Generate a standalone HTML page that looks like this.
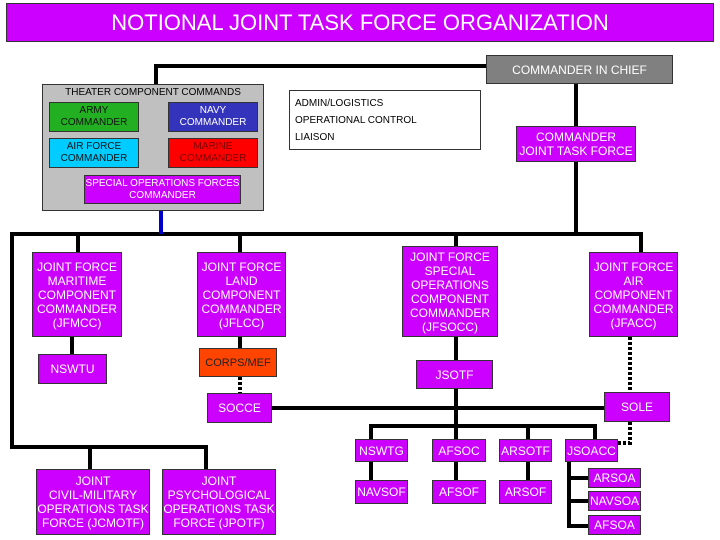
<!DOCTYPE html>
<html><head><meta charset="utf-8"><style>
body{margin:0;width:720px;height:540px;background:#fff;position:relative;overflow:hidden;font-family:"Liberation Sans",sans-serif}
.b{position:absolute;box-sizing:border-box;display:flex;align-items:center;justify-content:center;text-align:center;color:#fff;font-size:12px;line-height:14px;background:#cc00ff;border:1px solid #333}
.t{position:absolute;font-size:10px;color:#000}
svg{position:absolute;left:0;top:0}
</style></head><body>
<svg width="720" height="540">
<g stroke="#000" stroke-width="4" fill="none">
<polyline points="487,66 156,66 156,84"/>
<line x1="576" y1="84" x2="576" y2="234"/>
<line x1="10" y1="234" x2="643" y2="234"/>
<line x1="78" y1="234" x2="78" y2="252"/>
<line x1="240" y1="234" x2="240" y2="252"/>
<line x1="456" y1="234" x2="456" y2="246"/>
<line x1="641" y1="234" x2="641" y2="252"/>
<line x1="72" y1="337" x2="72" y2="354"/>
<line x1="240" y1="337" x2="240" y2="348"/>
<line x1="456" y1="337" x2="456" y2="426"/>
<line x1="272" y1="408" x2="604" y2="408"/>
<polyline points="371,439 371,426 595,426 595,439"/>
<line x1="456" y1="426" x2="456" y2="439"/>
<line x1="528" y1="426" x2="528" y2="439"/>
<line x1="371" y1="462" x2="371" y2="480"/>
<line x1="456" y1="462" x2="456" y2="480"/>
<line x1="528" y1="462" x2="528" y2="480"/>
<polyline points="569,462 569,526 588,526"/>
<line x1="569" y1="478" x2="588" y2="478"/>
<line x1="569" y1="501" x2="588" y2="501"/>
<polyline points="12,234 12,447 206,447 206,469"/>
<line x1="90" y1="447" x2="90" y2="469"/>
<line x1="439" y1="121" x2="476" y2="121"/>
</g>
<line x1="161" y1="210" x2="161" y2="234" stroke="#0000cc" stroke-width="4"/>
<line x1="439" y1="104" x2="476" y2="104" stroke="#0000cc" stroke-width="4"/>
<g stroke="#000" stroke-width="4" stroke-dasharray="3,2" fill="none">
<line x1="240" y1="377" x2="240" y2="393"/>
<polyline points="630,337 630,392"/>
<polyline points="630,422 630,443 618,443"/>
<line x1="439" y1="138" x2="478" y2="138"/>
</g>
</svg>
<div class="b" style="left:6px;top:3px;width:708px;height:39px;font-size:22px">NOTIONAL JOINT TASK FORCE ORGANIZATION</div>
<div class="b" style="left:486px;top:55px;width:187px;height:29px;background:#808080">COMMANDER IN CHIEF</div>
<div class="b" style="left:42px;top:84px;width:222px;height:127px;background:#c0c0c0;display:block"></div>
<div class="t" style="left:42px;top:87px;width:222px;text-align:center">THEATER COMPONENT COMMANDS</div>
<div class="b" style="left:49px;top:102px;width:90px;height:30px;background:#22b022;color:#111;font-size:10px;line-height:12px">ARMY<br>COMMANDER</div>
<div class="b" style="left:168px;top:102px;width:90px;height:30px;background:#3333bb;font-size:10px;line-height:12px">NAVY<br>COMMANDER</div>
<div class="b" style="left:49px;top:138px;width:90px;height:30px;background:#00ccff;color:#111;font-size:10px;line-height:12px">AIR FORCE<br>COMMANDER</div>
<div class="b" style="left:168px;top:138px;width:90px;height:30px;background:#ff0000;color:#770000;font-size:10px;line-height:12px">MARINE<br>COMMANDER</div>
<div class="b" style="left:84px;top:175px;width:157px;height:29px;font-size:10px;line-height:12px">SPECIAL OPERATIONS FORCES<br>COMMANDER</div>
<div class="b" style="left:289px;top:90px;width:192px;height:60px;background:#fff;display:block"></div>
<div class="t" style="left:295px;top:98px">ADMIN/LOGISTICS</div>
<div class="t" style="left:295px;top:115px">OPERATIONAL CONTROL</div>
<div class="t" style="left:295px;top:132px">LIAISON</div>
<div class="b" style="left:516px;top:126px;width:120px;height:36px">COMMANDER<br>JOINT TASK FORCE</div>
<div class="b" style="left:32px;top:252px;width:90px;height:85px">JOINT FORCE<br>MARITIME<br>COMPONENT<br>COMMANDER<br>(JFMCC)</div>
<div class="b" style="left:197px;top:252px;width:89px;height:85px">JOINT FORCE<br>LAND<br>COMPONENT<br>COMMANDER<br>(JFLCC)</div>
<div class="b" style="left:402px;top:246px;width:96px;height:91px">JOINT FORCE<br>SPECIAL<br>OPERATIONS<br>COMPONENT<br>COMMANDER<br>(JFSOCC)</div>
<div class="b" style="left:589px;top:252px;width:89px;height:85px">JOINT FORCE<br>AIR<br>COMPONENT<br>COMMANDER<br>(JFACC)</div>
<div class="b" style="left:38px;top:354px;width:69px;height:30px">NSWTU</div>
<div class="b" style="left:199px;top:348px;width:78px;height:29px;background:#ff4400;color:#222;font-size:11px">CORPS/MEF</div>
<div class="b" style="left:207px;top:393px;width:65px;height:30px">SOCCE</div>
<div class="b" style="left:416px;top:360px;width:77px;height:29px">JSOTF</div>
<div class="b" style="left:604px;top:392px;width:66px;height:30px">SOLE</div>
<div class="b" style="left:355px;top:439px;width:53px;height:23px">NSWTG</div>
<div class="b" style="left:432px;top:439px;width:54px;height:23px">AFSOC</div>
<div class="b" style="left:499px;top:439px;width:53px;height:23px">ARSOTF</div>
<div class="b" style="left:565px;top:439px;width:53px;height:23px">JSOACC</div>
<div class="b" style="left:355px;top:480px;width:53px;height:24px">NAVSOF</div>
<div class="b" style="left:432px;top:480px;width:54px;height:24px">AFSOF</div>
<div class="b" style="left:499px;top:480px;width:53px;height:24px">ARSOF</div>
<div class="b" style="left:588px;top:468px;width:53px;height:20px">ARSOA</div>
<div class="b" style="left:588px;top:491px;width:53px;height:20px">NAVSOA</div>
<div class="b" style="left:588px;top:515px;width:53px;height:20px">AFSOA</div>
<div class="b" style="left:36px;top:469px;width:114px;height:66px">JOINT<br>CIVIL-MILITARY<br>OPERATIONS TASK<br>FORCE (JCMOTF)</div>
<div class="b" style="left:162px;top:469px;width:114px;height:66px">JOINT<br>PSYCHOLOGICAL<br>OPERATIONS TASK<br>FORCE (JPOTF)</div>
</body></html>
